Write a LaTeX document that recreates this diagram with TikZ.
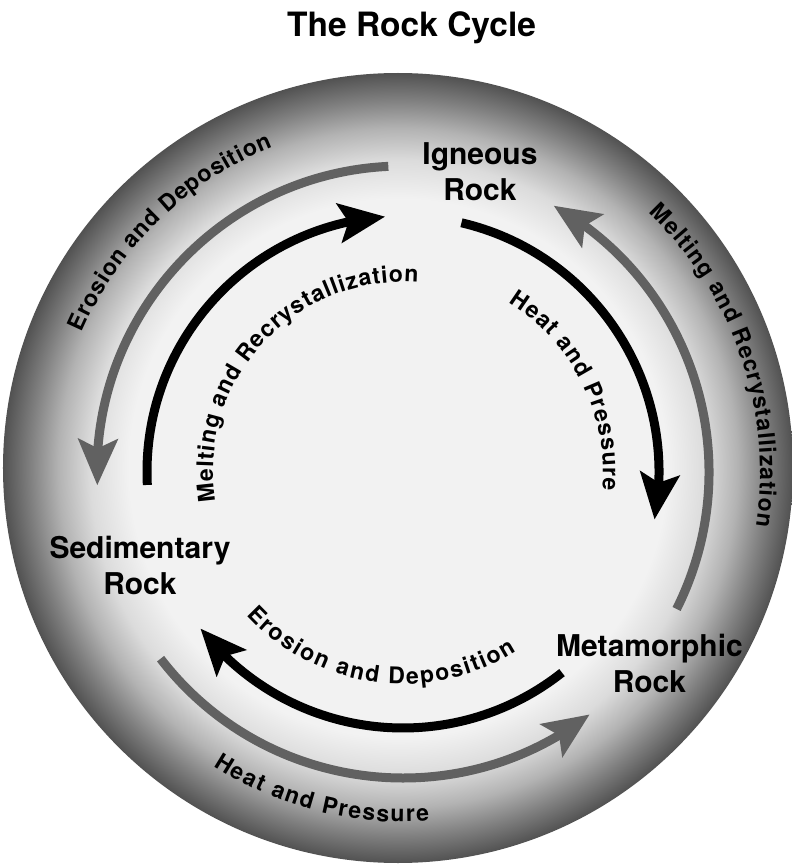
\documentclass[tikz,border=0pt]{standalone}
\usepackage{fontspec}
\setmainfont{TeX Gyre Heros}
\usetikzlibrary{arrows.meta,bending,decorations.text}
\definecolor{shA}{gray}{0.95}
\definecolor{shB}{gray}{0.86}
\definecolor{shC}{gray}{0.70}
\definecolor{shD}{gray}{0.50}
\definecolor{shE}{gray}{0.32}
\definecolor{grayarrow}{gray}{0.38}
\pgfdeclareradialshading{rockdisk}{\pgfpoint{0bp}{0bp}}{color(0bp)=(shA); color(17bp)=(shA); color(19.5bp)=(shB); color(21.5bp)=(shC); color(23.3bp)=(shD); color(25bp)=(shE); color(50bp)=(shE)}
\newcommand\arclabfont{\bfseries\fontsize{23}{23}\selectfont}
\newcommand\rockfont{\bfseries\fontsize{30}{36}\selectfont}
\newcommand\titlefont{\bfseries\fontsize{33.5}{40}\selectfont}
\tikzset{
  rock/.style={align=center, inner sep=0pt, font=\rockfont},
  blackarrow/.style={line width=9pt, black, -{Stealth[length=46pt, width=39pt, inset=9pt, flex]}},
  grayarc/.style={line width=9pt, grayarrow, -{Stealth[length=46pt, width=39pt, inset=9pt, flex]}},
  arclabel/.style={decorate, decoration={text along path, text align={fit to path}, text={|\arclabfont|#1}}}
}
\begin{document}
\begin{tikzpicture}[x=1pt, y=1pt]
\useasboundingbox (-403,-393) rectangle (389,472);
% disk
\shade[shading=rockdisk] (-5,4) circle[radius=395];
% title
\node[anchor=base west, inner sep=0pt, font=\titlefont] (title) at (-116,435) {The Rock Cycle};
% rock nodes
\node[rock] (ign) at (77,300) {Igneous\\Rock};
\node[rock] (sed) at (-263,-93) {Sedimentary\\Rock};
\node[rock] (met) at (246.5,-191.5) {Metamorphic\\Rock};
% arc end points
\coordinate (g1) at (92.75:306);
\coordinate (g2) at (-26.6:306);
\coordinate (g3) at (217.6:306);
\coordinate (b1) at (182.9:256);
\coordinate (b2) at (76.8:256);
\coordinate (b3) at (-51.6:256);
% outer gray arrows (counterclockwise)
\draw[grayarc] (g1) arc[start angle=92.75, end angle=182.5, radius=306];
\draw[grayarc] (g2) arc[start angle=-26.6, end angle=60.5, radius=306];
\draw[grayarc] (g3) arc[start angle=217.6, end angle=307.6, radius=306];
% inner black arrows (clockwise)
\draw[blackarrow] (b1) arc[start angle=182.9, end angle=94, radius=256];
\draw[blackarrow] (b2) arc[start angle=76.8, end angle=-10.7, radius=256];
\draw[blackarrow] (b3) arc[start angle=-51.6, end angle=-142.3, radius=256];
% text along arcs
\coordinate (t1) at (156.5:350);
\coordinate (t2) at (189:190);
\coordinate (t3) at (58.1:200);
\coordinate (t4) at (46.5:357);
\coordinate (t5) at (222.6:212);
\coordinate (t6) at (237.2:350);
\path[arclabel={Erosion and Deposition}] (t1) arc[start angle=156.5, end angle=111.9, radius=350];
\path[arclabel={Melting and Recrystallization}] (t2) arc[start angle=189, end angle=85.4, radius=190];
\path[arclabel={Heat and Pressure}] (t3) arc[start angle=58.1, end angle=-5.3, radius=200];
\path[arclabel={Melting and Recrystallization}] (t4) arc[start angle=46.5, end angle=-8.7, radius=357];
\path[arclabel={Erosion and Deposition}] (t5) arc[start angle=222.6, end angle=302.3, radius=212];
\path[arclabel={Heat and Pressure}] (t6) arc[start angle=237.2, end angle=274.3, radius=350];
\end{tikzpicture}
\end{document}
